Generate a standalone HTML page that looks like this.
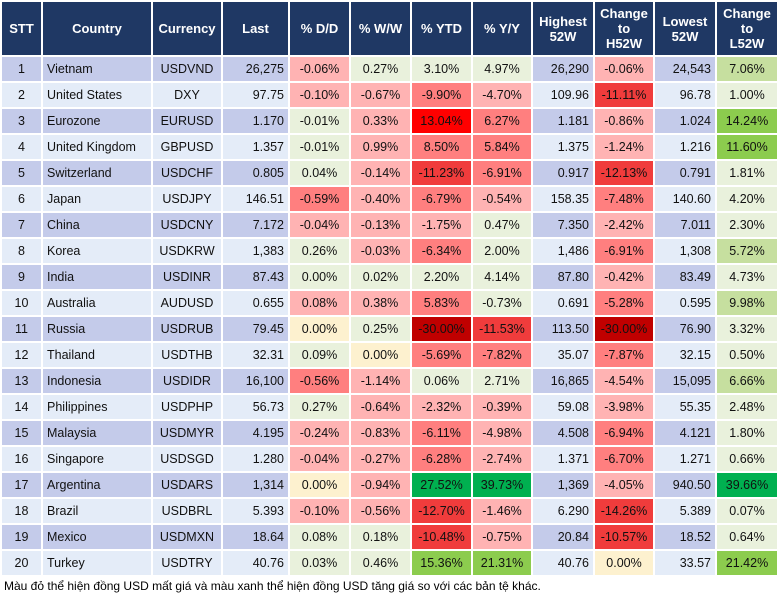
<!DOCTYPE html>
<html><head><meta charset="utf-8">
<style>
body{margin:0;background:#fff;width:777px;height:602px;overflow:hidden;font-family:"Liberation Sans",Arial,sans-serif;}
table{border-collapse:collapse;table-layout:fixed;position:absolute;left:0;top:0;width:777px;}
th,td{border:2px solid #fff;padding:0 4px;font-size:12.5px;white-space:nowrap;overflow:hidden;box-sizing:border-box;}
th{background:#1f3864;color:#fff;font-weight:bold;height:55px;font-size:13px;line-height:15px;text-align:center;}
td{height:26px;color:#111;}
tr.o td.b{background:#c4cbea;}
tr.e td.b{background:#e4ecf8;}
td.c{text-align:center}td.l{text-align:left}td.r{text-align:right}
.p{background:#e9f1dc}.y{background:#fdf1cf}
.r1{background:#ffb3b3}.r2{background:#ff7f7f}.r3{background:#f03c3c}.r4{background:#c00000}.r5{background:#ff0000}
.g1{background:#c6df9f}.g2{background:#8ccc4e}.g3{background:#00b050}
#note{position:absolute;left:4px;top:579px;font-size:12px;color:#000;}
</style></head><body>
<table>
<colgroup><col style="width:41px"><col style="width:110px"><col style="width:70px"><col style="width:67px"><col style="width:61px"><col style="width:61px"><col style="width:61px"><col style="width:60px"><col style="width:62px"><col style="width:60px"><col style="width:62px"><col style="width:62px"></colgroup>
<thead><tr>
<th>STT</th>
<th>Country</th>
<th>Currency</th>
<th>Last</th>
<th>% D/D</th>
<th>% W/W</th>
<th>% YTD</th>
<th>% Y/Y</th>
<th>Highest<br>52W</th>
<th>Change<br>to<br>H52W</th>
<th>Lowest<br>52W</th>
<th>Change<br>to<br>L52W</th>
</tr></thead>
<tbody id="tb"></tbody>
</table>
<div id="note">Màu đỏ thể hiện đồng USD mất giá và màu xanh thể hiện đồng USD tăng giá so với các bản tệ khác.</div>
<script>
const countries=["Vietnam","United States","Eurozone","United Kingdom","Switzerland","Japan","China","Korea","India","Australia","Russia","Thailand","Indonesia","Philippines","Malaysia","Singapore","Argentina","Brazil","Mexico","Turkey"];
const currencies=["USDVND","DXY","EURUSD","GBPUSD","USDCHF","USDJPY","USDCNY","USDKRW","USDINR","AUDUSD","USDRUB","USDTHB","USDIDR","USDPHP","USDMYR","USDSGD","USDARS","USDBRL","USDMXN","USDTRY"];
const last=["26,275","97.75","1.170","1.357","0.805","146.51","7.172","1,383","87.43","0.655","79.45","32.31","16,100","56.73","4.195","1.280","1,314","5.393","18.64","40.76"];
const dd=["-0.06%","-0.10%","-0.01%","-0.01%","0.04%","-0.59%","-0.04%","0.26%","0.00%","0.08%","0.00%","0.09%","-0.56%","0.27%","-0.24%","-0.04%","0.00%","-0.10%","0.08%","0.03%"];
const ww=["0.27%","-0.67%","0.33%","0.99%","-0.14%","-0.40%","-0.13%","-0.03%","0.02%","0.38%","0.25%","0.00%","-1.14%","-0.64%","-0.83%","-0.27%","-0.94%","-0.56%","0.18%","0.46%"];
const ytd=["3.10%","-9.90%","13.04%","8.50%","-11.23%","-6.79%","-1.75%","-6.34%","2.20%","5.83%","-30.00%","-5.69%","0.06%","-2.32%","-6.11%","-6.28%","27.52%","-12.70%","-10.48%","15.36%"];
const yy=["4.97%","-4.70%","6.27%","5.84%","-6.91%","-0.54%","0.47%","2.00%","4.14%","-0.73%","-11.53%","-7.82%","2.71%","-0.39%","-4.98%","-2.74%","39.73%","-1.46%","-0.75%","21.31%"];
const high52=["26,290","109.96","1.181","1.375","0.917","158.35","7.350","1,486","87.80","0.691","113.50","35.07","16,865","59.08","4.508","1.371","1,369","6.290","20.84","40.76"];
const chH=["-0.06%","-11.11%","-0.86%","-1.24%","-12.13%","-7.48%","-2.42%","-6.91%","-0.42%","-5.28%","-30.00%","-7.87%","-4.54%","-3.98%","-6.94%","-6.70%","-4.05%","-14.26%","-10.57%","0.00%"];
const low52=["24,543","96.78","1.024","1.216","0.791","140.60","7.011","1,308","83.49","0.595","76.90","32.15","15,095","55.35","4.121","1.271","940.50","5.389","18.52","33.57"];
const chL=["7.06%","1.00%","14.24%","11.60%","1.81%","4.20%","2.30%","5.72%","4.73%","9.98%","3.32%","0.50%","6.66%","2.48%","1.80%","0.66%","39.66%","0.07%","0.64%","21.42%"];
// heat classes per row: dd, ww, ytd, yy, chH, chL
const heat=[
["r1","p","p","p","r1","g1"],["r1","r1","r2","r1","r3","p"],["p","r1","r5","r2","r1","g2"],["p","r1","r2","r2","r1","g2"],
["p","r1","r3","r2","r3","p"],["r2","r1","r2","r1","r2","p"],["r1","r1","r1","p","r1","p"],["p","r1","r2","p","r2","g1"],
["p","p","p","p","r1","p"],["r1","r1","r2","p","r2","g1"],["y","p","r4","r3","r4","p"],["p","y","r2","r2","r2","p"],
["r2","r1","p","p","r1","g1"],["p","r1","r1","r1","r1","p"],["r1","r1","r2","r1","r2","p"],["r1","r1","r2","r1","r2","p"],
["y","r1","g3","g3","r1","g3"],["r1","r1","r3","r1","r3","p"],["p","p","r3","r1","r3","p"],["p","p","g2","g2","y","g2"]];
const tb=document.getElementById('tb');
function cell(tr,txt,cls,name){const td=document.createElement('td');td.className=cls;td.textContent=txt;


tr.appendChild(td);}
countries.forEach((c,i)=>{
const tr=document.createElement('tr');tr.className=(i%2==0)?'o':'e';


const h=heat[i];
cell(tr,String(i+1),'b c','stt-cell');
cell(tr,c,'b l','country-cell');
cell(tr,currencies[i],'b c','currency-cell');
cell(tr,last[i],'b r','last-cell');
cell(tr,dd[i],h[0]+' c','dd-cell');
cell(tr,ww[i],h[1]+' c','ww-cell');
cell(tr,ytd[i],h[2]+' c','ytd-cell');
cell(tr,yy[i],h[3]+' c','yy-cell');
cell(tr,high52[i],'b r','high52w-cell');
cell(tr,chH[i],h[4]+' c','change-h52w-cell');
cell(tr,low52[i],'b r','low52w-cell');
cell(tr,chL[i],h[5]+' c','change-l52w-cell');
tb.appendChild(tr);});
</script>
</body></html>
